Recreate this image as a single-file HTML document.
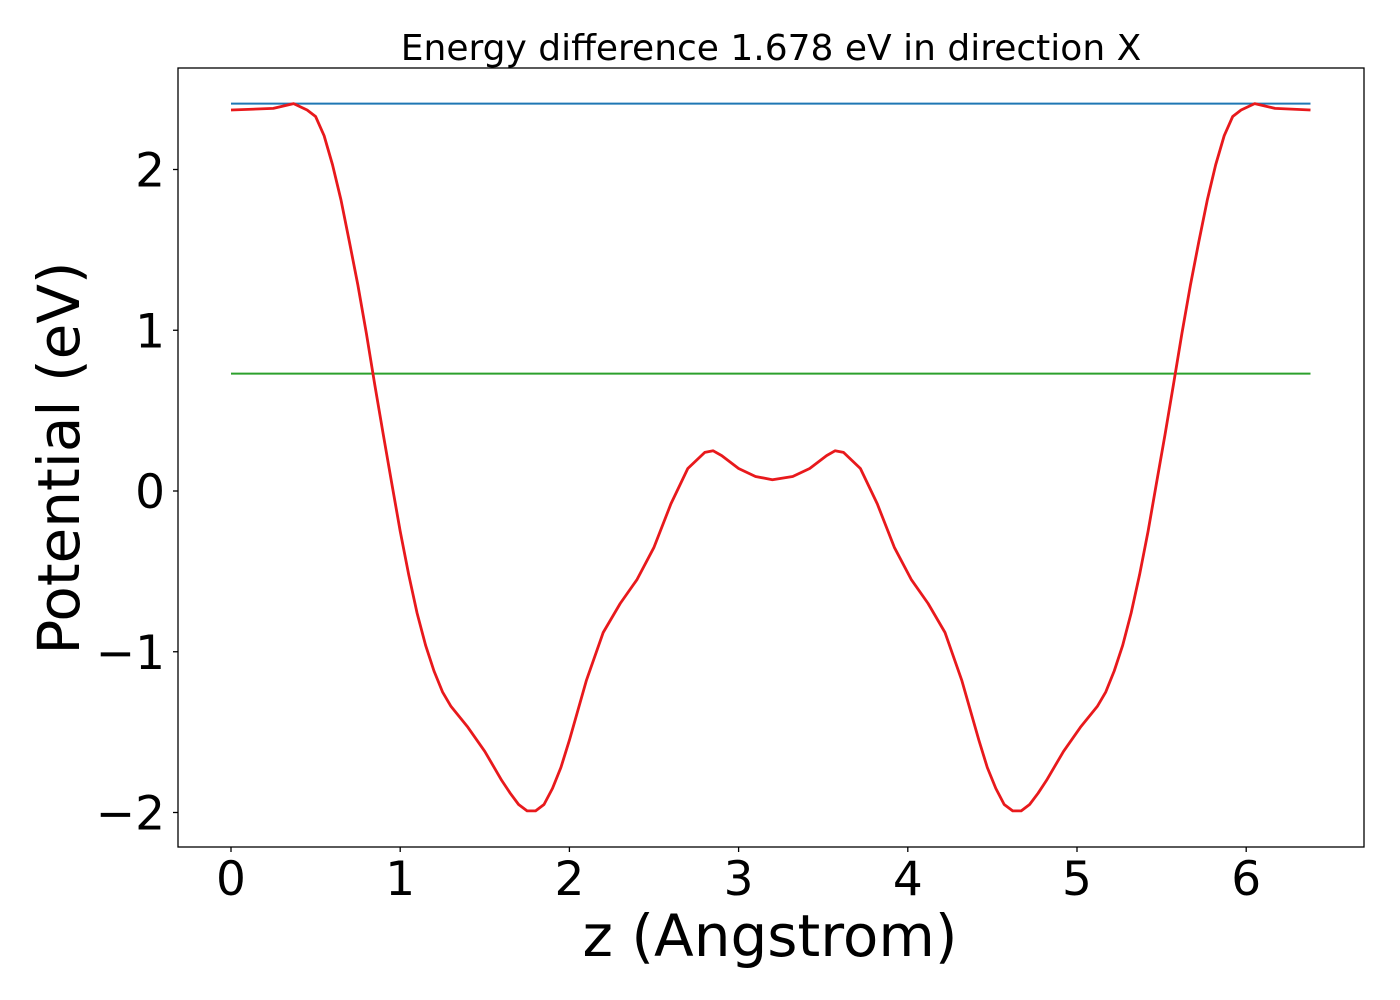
<!DOCTYPE html>
<html><head><meta charset="utf-8"><style>
body{margin:0;background:#fff}
svg{display:block;font-family:"DejaVu Sans","Liberation Sans",sans-serif}
</style></head><body>
<svg id="chart" width="1400" height="1000" viewBox="0 0 1400 1000" xmlns="http://www.w3.org/2000/svg">
<rect width="1400" height="1000" fill="#fff"/>
<text x="771" y="60" font-size="36" text-anchor="middle">Energy difference 1.678 eV in direction X</text>
<g id="plot"></g>
<rect x="178" y="68" width="1186" height="779" fill="none" stroke="#000" stroke-width="1.3"/>
<g id="xt"></g><g id="yt"></g>
<text x="770" y="956" font-size="58" text-anchor="middle">z (Angstrom)</text>
<text transform="translate(79,458) rotate(-90)" font-size="58" text-anchor="middle">Potential (eV)</text>
</svg>
<script>
const zVals=[0,0.25,0.37,0.45,0.5,0.55,0.6,0.65,0.7,0.75,0.8,0.85,0.9,0.95,1.0,1.05,1.1,1.15,1.2,1.25,1.3,1.4,1.5,1.6,1.65,1.7,1.75,1.8,1.85,1.9,1.95,2.0,2.1,2.2,2.3,2.4,2.5,2.6,2.7,2.8,2.85,2.9,3.0,3.1,3.2,3.32,3.42,3.52,3.57,3.62,3.72,3.82,3.92,4.02,4.12,4.22,4.32,4.42,4.47,4.52,4.57,4.62,4.67,4.72,4.77,4.82,4.92,5.02,5.12,5.17,5.22,5.27,5.32,5.37,5.42,5.47,5.52,5.57,5.62,5.67,5.72,5.77,5.82,5.87,5.92,5.97,6.05,6.17,6.38];
const potential=[2.37,2.38,2.41,2.37,2.33,2.21,2.03,1.81,1.55,1.28,0.98,0.66,0.35,0.05,-0.25,-0.52,-0.76,-0.96,-1.12,-1.25,-1.34,-1.47,-1.62,-1.80,-1.88,-1.95,-1.99,-1.99,-1.95,-1.85,-1.72,-1.55,-1.18,-0.88,-0.70,-0.55,-0.35,-0.08,0.14,0.24,0.25,0.22,0.14,0.09,0.07,0.09,0.14,0.22,0.25,0.24,0.14,-0.08,-0.35,-0.55,-0.70,-0.88,-1.18,-1.55,-1.72,-1.85,-1.95,-1.99,-1.99,-1.95,-1.88,-1.80,-1.62,-1.47,-1.34,-1.25,-1.12,-0.96,-0.76,-0.52,-0.25,0.05,0.35,0.66,0.98,1.28,1.55,1.81,2.03,2.21,2.33,2.37,2.41,2.38,2.37];
const maxLevel=2.41;
const meanLevel=0.73;
const xTicks=[0,1,2,3,4,5,6];
const yTicks=[-2,-1,0,1,2];
const yTickLabels=["\u22122","\u22121","0","1","2"];
const NS="http://www.w3.org/2000/svg";
const X=z=>231+169.2*z;
const Y=v=>491-160.75*v;
const plot=document.getElementById('plot');
function line(x1,y1,x2,y2,c,w,name){const l=document.createElementNS(NS,'line');
l.setAttribute('x1',x1);l.setAttribute('y1',y1);l.setAttribute('x2',x2);l.setAttribute('y2',y2);
l.setAttribute('stroke',c);l.setAttribute('stroke-width',w);


return l;}
const zMin=zVals[0],zMax=zVals[zVals.length-1];
plot.appendChild(line(X(zMin),Y(maxLevel),X(zMax),Y(maxLevel),'#1f77b4',2,'max-potential-line'));
plot.appendChild(line(X(zMin),Y(meanLevel),X(zMax),Y(meanLevel),'#2ca02c',2,'mean-potential-line'));
const p=document.createElementNS(NS,'polyline');
p.setAttribute('points',zVals.map((z,i)=>X(z).toFixed(1)+','+Y(potential[i]).toFixed(1)).join(' '));
p.setAttribute('fill','none');p.setAttribute('stroke','#e8191c');p.setAttribute('stroke-width','2.8');p.setAttribute('stroke-linejoin','round');


plot.appendChild(p);
const xt=document.getElementById('xt');
xTicks.forEach(t=>{const l=line(X(t),847,X(t),852,'#000',1.3,'x-tick');xt.appendChild(l);
const tx=document.createElementNS(NS,'text');tx.setAttribute('x',X(t));tx.setAttribute('y',895);
tx.setAttribute('font-size','47');tx.setAttribute('text-anchor','middle');tx.textContent=t;


xt.appendChild(tx);});
const yt=document.getElementById('yt');
yTicks.forEach((t,i)=>{const l=line(173,Y(t),178,Y(t),'#000',1.3,'y-tick');yt.appendChild(l);
const tx=document.createElementNS(NS,'text');tx.setAttribute('x',165);tx.setAttribute('y',Y(t)+17);
tx.setAttribute('font-size','47');tx.setAttribute('text-anchor','end');tx.textContent=yTickLabels[i];


yt.appendChild(tx);});
</script>
</body></html>
